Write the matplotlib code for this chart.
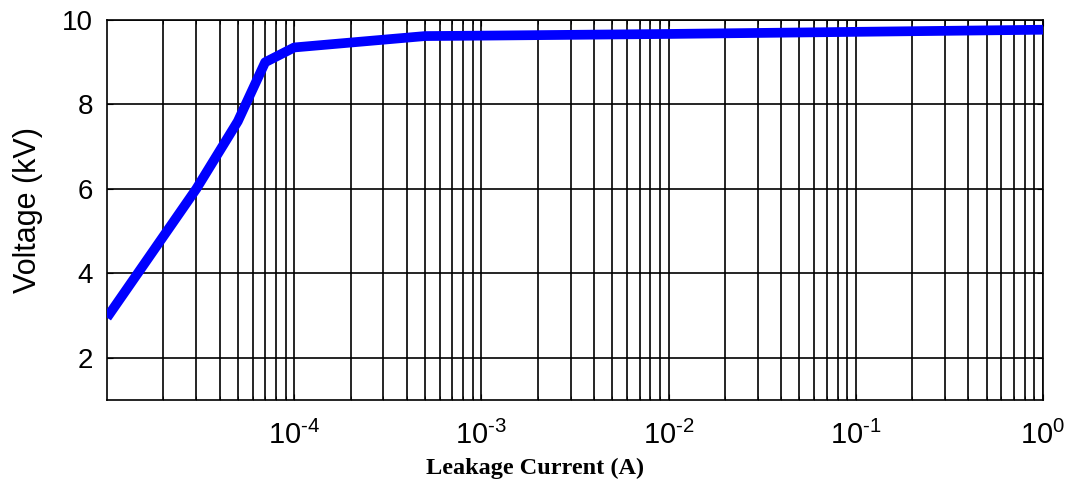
import math
import matplotlib
matplotlib.use("Agg")
import matplotlib.pyplot as plt
from matplotlib.ticker import LogLocator, FixedLocator, FuncFormatter

# leakage current (A) vs voltage (kV)
current = [1e-5, 3e-5, 5e-5, 7e-5, 1e-4, 5e-4, 1e-3, 1e-2, 1e-1, 1.0]
voltage = [2.95, 6.0, 7.6, 9.0, 9.35, 9.62, 9.63, 9.67, 9.72, 9.77]

y_ticks = [2, 4, 6, 8, 10]
x_ticks = [1e-4, 1e-3, 1e-2, 1e-1, 1e0]

plt.rcParams['font.family'] = ['Liberation Sans', 'DejaVu Sans']
plt.rcParams['mathtext.fontset'] = 'custom'
plt.rcParams['mathtext.rm'] = 'Liberation Sans'
plt.rcParams['mathtext.it'] = 'Liberation Sans'
plt.rcParams['mathtext.default'] = 'regular'

fig = plt.figure(figsize=(10.74, 4.86), dpi=100)
ax = fig.add_axes([0.0996, 0.177, 0.8715, 0.7818])

ax.plot(current, voltage, color='#0000ff', lw=7, solid_capstyle='butt', zorder=3)

ax.set_xscale('log')
ax.set_xlim(1e-5, 1)
ax.set_ylim(1, 10)

ax.xaxis.set_major_locator(FixedLocator(x_ticks))
ax.xaxis.set_minor_locator(LogLocator(base=10, subs=range(2, 10), numticks=20))
ax.xaxis.set_major_formatter(FuncFormatter(
    lambda v, p: r'$10^{\text{%d}}$' % round(math.log10(v))))
ax.yaxis.set_major_locator(FixedLocator(y_ticks))

ax.grid(True, which='major', color='black', lw=1.2)
ax.grid(True, which='minor', axis='x', color='black', lw=1.2)

ax.tick_params(which='both', direction='in', top=True, right=True, color='black')
ax.tick_params(axis='x', which='major', labelsize=21, length=4, pad=15)
ax.tick_params(axis='y', which='major', labelsize=20, length=4, pad=10)
ax.tick_params(which='minor', length=3)
for s in ax.spines.values():
    s.set_linewidth(1.2)

ax.set_ylabel('Voltage (kV)', fontsize=22)
ax.yaxis.set_label_coords(-0.068, 0.5)
ax.set_xlabel('Leakage Current (A)', fontsize=17.5, fontweight='bold',
              family='Liberation Serif')
ax.xaxis.set_label_coords(0.457, -0.152)

fig.savefig('out.png', dpi=100)
